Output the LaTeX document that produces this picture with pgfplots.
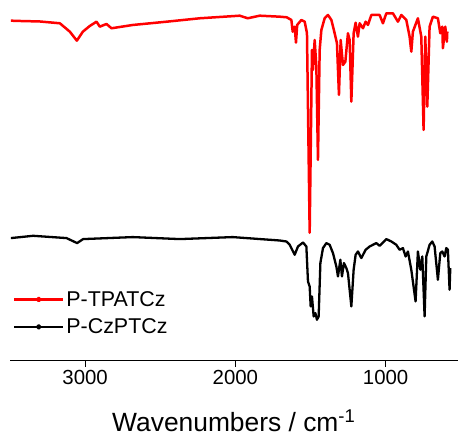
\documentclass[border=0pt]{standalone}
\usepackage{fontspec}
\setmainfont{Liberation Sans}
\usepackage{pgfplots}
\pgfplotsset{compat=1.18}
\begin{document}
\begin{tikzpicture}
\begin{axis}[
  scale only axis, width=448bp, height=361bp,
  x dir=reverse, xmin=521, xmax=3500, ymin=76, ymax=437,
  axis x line=bottom, axis y line=none,
  x axis line style={-, line width=0.8bp},
  xtick={1000,2000,3000}, ytick=\empty,
  tick align=outside, major tick length=6bp,
  xtick style={black, line width=0.8bp},
  /pgf/number format/assume math mode=true,
  /pgf/number format/1000 sep={},
  ticklabel style={font=\fontsize{20.5}{24}\selectfont},
  xlabel={Wavenumbers / cm\textsuperscript{-1}},
  xlabel style={font=\fontsize{26.5}{30}\selectfont, yshift=-18bp},
  clip=false,
  legend style={at={(rel axis cs:0,0.198)}, xshift=3bp, anchor=north west, draw=none, fill=none,
    font=\fontsize{21.5}{24}\selectfont, row sep=7bp, inner sep=0pt, outer sep=0pt,
    /tikz/every even column/.append style={column sep=3bp}},
  legend cell align=left,
  legend image code/.code={
    \draw[#1] (0bp,0bp) -- (49bp,0bp);
    \fill[#1] (24.5bp,0bp) circle (1.6bp);
  },
]
\addplot[red, line width=2.5bp, line join=round] coordinates {
(3494.1,416.3) (3434.3,416) (3301.3,415.5) (3168.2,413.7) (3101.7,405.3) (3055.2,396.3)
(3015.3,405.3) (2968.7,411) (2924.2,415.3) (2902.2,410.3) (2857.6,413) (2824.4,408.7)
(2682.7,412) (2456.6,415.3) (2237.1,418.7) (1971.1,421.3) (1917.9,418.7) (1838.0,421.3)
(1705.1,420.3) (1658.4,419.7) (1627.2,417) (1618.5,405.3) (1605.3,410.3) (1596.6,394.3)
(1588.7,412) (1560.7,417) (1538.7,415.3) (1523.5,404) (1505.5,204) (1490.2,387)
(1483.6,367) (1472.3,397) (1461.0,370.3) (1450.3,277) (1439.0,387) (1427.7,407)
(1405.7,418.7) (1383.7,422) (1361.1,417) (1339.2,403.7) (1323.9,393.7) (1310.6,342)
(1299.3,397) (1284.0,372) (1268.0,375.3) (1250.7,403.7) (1239.5,397) (1228.2,335.3)
(1212.9,403.7) (1199.6,414.3) (1184.2,400.3) (1172.9,413.7) (1151.0,408.7) (1133.0,415.3)
(1117.7,412) (1095.1,422) (1040.1,422) (1017.9,413.7) (995.4,423.7) (951.5,423.7)
(918.2,415.3) (895.6,422) (862.4,417) (840.4,400.3) (829.1,385.3) (818.5,405.3)
(785.2,418.7) (762.6,400.3) (747.3,307) (736.0,400.3) (722.7,330.3) (707.4,410.3)
(685.4,420.3) (652.1,418.7) (636.2,403.7) (622.9,410.3) (618.9,388.7) (602.9,410.3)
(592.3,395.3) (589.6,405.3)
};
\addlegendentry{P-TPATCz}
\addplot[black, line width=2.3bp, line join=round] coordinates {
(3494.1,198.7) (3345.8,201) (3123.7,198.7) (3053.2,193.7) (3013.3,197.7) (2682.7,199.7)
(2370.1,197.7) (2017.6,199.7) (1705.1,196.3) (1660.5,195.3) (1638.5,192) (1605.3,182)
(1583.3,190.3) (1550.0,194.3) (1527.5,190.3) (1516.8,155.3) (1505.5,150.3) (1498.9,130.3)
(1490.2,140.3) (1478.9,120.3) (1467.6,123.7) (1457.0,117) (1445.7,120.3) (1434.3,173.7)
(1417.0,188.7) (1394.4,193.7) (1372.5,192) (1350.5,183.7) (1328.0,170.3) (1317.1,160.3)
(1301.3,177) (1290.7,160.3) (1277.4,173.7) (1261.5,168.7) (1250.7,163.7) (1228.2,130.3)
(1212.9,167) (1199.6,182) (1184.2,185.3) (1161.7,178.7) (1133.0,187) (1106.4,190.3)
(1061.9,193.7) (1040.1,191) (995.4,197.7) (962.1,195.3) (928.9,192) (907.0,187)
(885.0,188.7) (867.0,180.3) (851.7,185.3) (829.1,167) (800.6,135.3) (785.2,185.3)
(769.3,167) (756.0,180.3) (740.6,120.3) (729.3,180.3) (707.4,192) (689.5,195.3)
(674.1,190.3) (652.1,157) (636.2,183.7) (622.9,185.3) (607.6,180.3) (596.3,188.7)
(585.6,187) (574.4,147) (569.7,168.7)
};
\addlegendentry{P-CzPTCz}
\end{axis}
\path[use as bounding box] (current axis.south west) ++(-10bp,-76bp) rectangle (current axis.north east);
\end{tikzpicture}
\end{document}
